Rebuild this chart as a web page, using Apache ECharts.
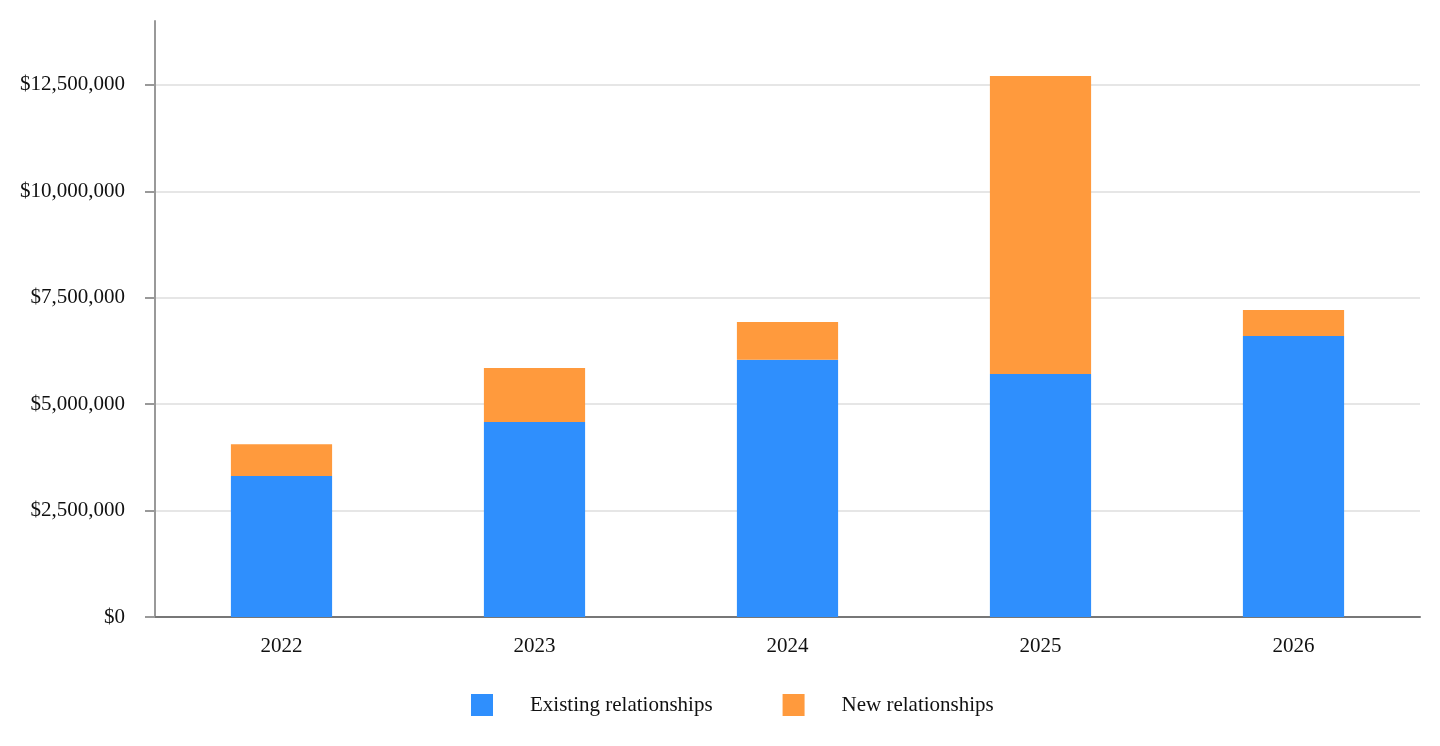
<!DOCTYPE html>
<html>
<head>
<meta charset="utf-8">
<script src="https://cdn.jsdelivr.net/npm/echarts@6/dist/echarts.min.js"></script>
<style>
    html, body { margin: 0; padding: 0; background: #fff; }
    #container { width: 1440px; height: 746px; }
</style>
</head>
<body>
<div id="container"></div>
<script type="text/javascript">
    // data
    var years = ['2022', '2023', '2024', '2025', '2026'];
    var existing = [3310000, 4580000, 6040000, 5710000, 6600000];
    var newRel = [750000, 1270000, 890000, 7000000, 610000];
    var seriesNames = ['Existing relationships', 'New relationships'];

    var font = "'Liberation Serif', 'Times New Roman', serif";

    var myChart = echarts.init(document.getElementById('container'));
    var option = {
        animation: false,
        color: ['#2f8ffd', '#ff9a3d'],
        textStyle: {fontFamily: font},
        grid: {left: 155, right: 20, top: 21, bottom: 129},
        legend: {
            data: seriesNames,
            top: 689,
            left: 466,
            icon: 'rect',
            itemWidth: 22,
            itemHeight: 22,
            itemGap: 70,
            textStyle: {fontFamily: font, fontSize: 21, color: '#111', padding: [0, 0, 0, 32]}
        },
        xAxis: {
            type: 'category',
            data: years,
            axisTick: {show: false},
            axisLine: {lineStyle: {color: '#777', width: 2}},
            axisLabel: {color: '#111', fontSize: 21, fontFamily: font, margin: 19}
        },
        yAxis: {
            type: 'value',
            min: 0,
            max: 14000000,
            interval: 2500000,
            axisLine: {show: true, lineStyle: {color: '#999', width: 2}},
            axisTick: {show: true, inside: false, length: 10, lineStyle: {color: '#999', width: 2}},
            splitLine: {show: true, showMaxLine: false, lineStyle: {color: '#e6e6e6', width: 2}},
            axisLabel: {
                color: '#111', fontSize: 21, fontFamily: font, margin: 30,
                showMaxLabel: false,
                formatter: function (v) {
                    return '$' + v.toLocaleString('en-US');
                }
            }
        },
        series: [
            {
                name: seriesNames[0],
                type: 'bar',
                stack: 'total',
                barWidth: '40%',
                data: existing
            },
            {
                name: seriesNames[1],
                type: 'bar',
                stack: 'total',
                barWidth: '40%',
                data: newRel
            }
        ]
    };
    myChart.setOption(option, true);
</script>
</body>
</html>
